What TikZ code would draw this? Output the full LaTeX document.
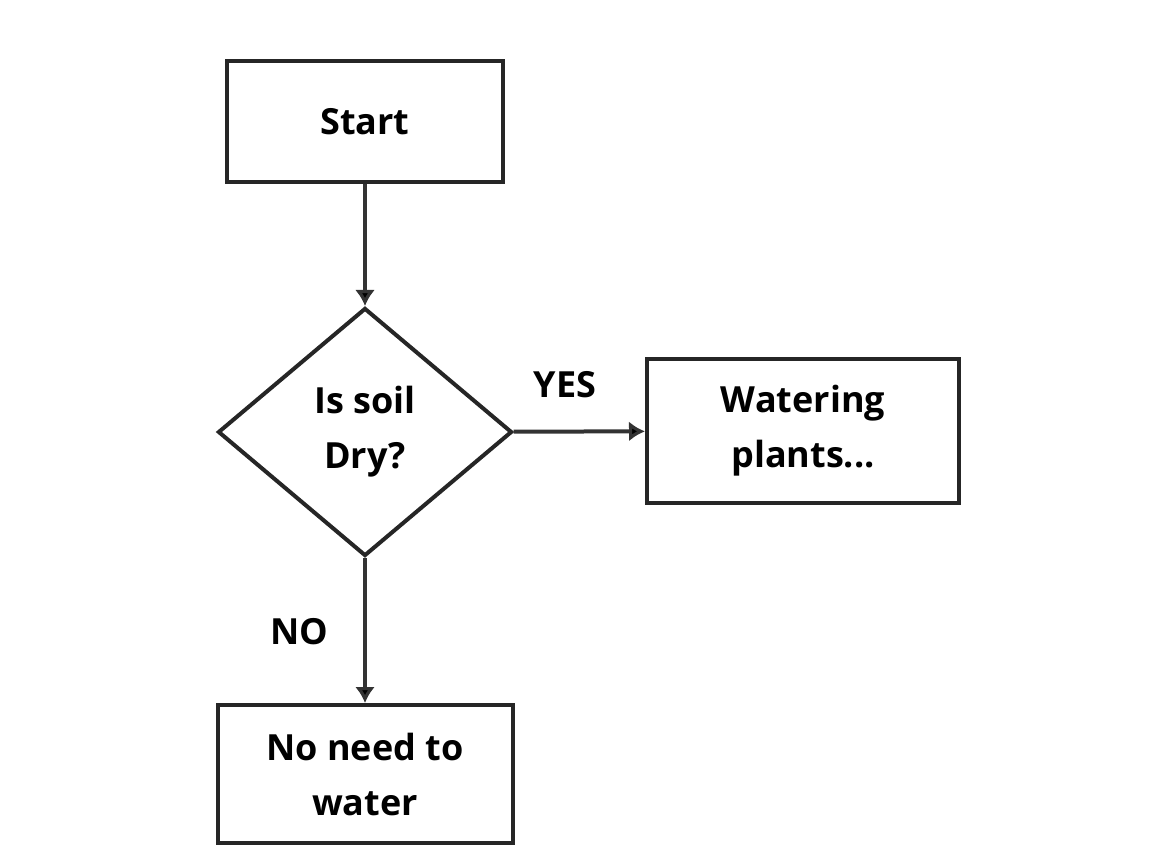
\documentclass[tikz,border=0pt]{standalone}
\usepackage{fontspec}
\setmainfont{Open Sans}
\usetikzlibrary{shapes.geometric,arrows.meta}
\usetikzlibrary{positioning}
\begin{document}
\begin{tikzpicture}[x=1pt,y=-1pt,semithick]
	\tikzstyle{box}=[draw=black!85, line width=4pt, rectangle, align=center, font=\fontsize{36}{55}\selectfont\bfseries]
	\tikzstyle{dec}=[draw=black!85, line width=4pt, diamond, inner sep=0pt, align=center, font=\fontsize{36}{55}\selectfont\bfseries]
	\tikzstyle{flow}=[draw=black!80, line width=4pt, -{Latex[length=16pt,width=20pt]}]
	\tikzstyle{lbl}=[font=\fontsize{36}{40}\selectfont\bfseries]
	\useasboundingbox (0,0) rectangle (1154,866);
	\node[box, minimum width=276pt, minimum height=121pt] (start) at (365,122) {Start};
	\node[dec, minimum width=294pt, minimum height=248pt] (dry) at (365,432) {Is soil\\Dry?};
	\node[box, minimum width=312pt, minimum height=143pt] (water) at (803,431) {Watering\\plants...};
	\node[box, minimum width=295pt, minimum height=138pt] (nowater) at (365,774) {No need to\\water};
	\node[lbl] (yes) at (565,385) {YES};
	\node[lbl] (no) at (299,632) {NO};
	\path[flow]
		(start) edge (dry)
		(dry) edge (water)
		(dry) edge (nowater);
\end{tikzpicture}
\end{document}
